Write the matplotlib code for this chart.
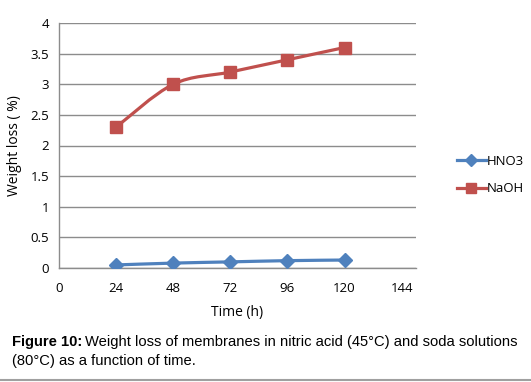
import numpy as np
import matplotlib.pyplot as plt
from matplotlib.path import Path
from matplotlib.patches import PathPatch
from matplotlib.lines import Line2D

# ── dados ─────────────────────────────────────────────
tempo = [24, 48, 72, 96, 120]
hno3 = [0.05, 0.08, 0.10, 0.12, 0.13]
naoh = [2.3, 3.0, 3.2, 3.4, 3.6]
xticks = [0, 24, 48, 72, 96, 120, 144]
yticks = [0, 0.5, 1, 1.5, 2, 2.5, 3, 3.5, 4]

azul = '#4F81BD'
vermelho = '#C0504D'
grade = '#8C8C8C'


def curva_suave(x, y, t=1/6):
    # curva estilo Excel (Catmull-Rom -> Bezier cubica)
    x = np.asarray(x, float)
    y = np.asarray(y, float)
    verts = [(x[0], y[0])]
    codes = [Path.MOVETO]
    n = len(x)
    for i in range(n - 1):
        p0 = (x[max(i - 1, 0)], y[max(i - 1, 0)])
        p1 = (x[i], y[i])
        p2 = (x[i + 1], y[i + 1])
        p3 = (x[min(i + 2, n - 1)], y[min(i + 2, n - 1)])
        c1 = (p1[0] + (p2[0] - p0[0]) * t, p1[1] + (p2[1] - p0[1]) * t)
        c2 = (p2[0] - (p3[0] - p1[0]) * t, p2[1] - (p3[1] - p1[1]) * t)
        verts += [c1, c2, p2]
        codes += [Path.CURVE4] * 3
    return Path(verts, codes)


fig = plt.figure(figsize=(5.31, 3.82), dpi=100)
ax = fig.add_axes([59/531, 1 - 268/382, (416-59)/531, (268-23)/382])

for serie, cor, mk, ms in [(hno3, azul, 'D', 7), (naoh, vermelho, 's', 8)]:
    ax.add_patch(PathPatch(curva_suave(tempo, serie), fill=False,
                           edgecolor=cor, linewidth=2.3, zorder=3))
    ax.plot(tempo, serie, linestyle='none', marker=mk, markersize=ms,
            color=cor, zorder=4)

ax.set_xlim(0, 150)
ax.set_ylim(0, 4)
ax.set_xticks(xticks)
ax.set_yticks(yticks)
ax.set_yticklabels([f'{v:g}' for v in yticks])
ax.tick_params(length=0, labelsize=9.5, pad=7)
ax.tick_params(axis='x', pad=10)
for lab in ax.get_xticklabels() + ax.get_yticklabels():
    lab.set_family('Open Sans')
ax.grid(axis='y', color=grade, linewidth=1)
ax.set_axisbelow(True)
for lado in ['top', 'right']:
    ax.spines[lado].set_visible(False)
for lado in ['left', 'bottom']:
    ax.spines[lado].set_color(grade)
    ax.spines[lado].set_linewidth(1)

ax.set_xlabel('Time (h)', family='Open Sans', fontsize=10, labelpad=7)
ax.set_ylabel('Weight loss ( %)', family='Open Sans', fontsize=10, labelpad=6)

handles = [Line2D([], [], color=azul, marker='D', markersize=6, linewidth=2.3),
           Line2D([], [], color=vermelho, marker='s', markersize=7, linewidth=2.3)]
fig.legend(handles, ['HNO3', 'NaOH'], loc='center left',
           bbox_to_anchor=(445/531, 1 - 175/382), frameon=False,
           prop={'family': 'Open Sans', 'size': 9.5}, handlelength=2.2,
           handletextpad=0.05, labelspacing=1.1)

# legenda da figura
tam = 10.6
t1 = fig.text(12/531, 1 - 342/382, 'Figure 10:', fontsize=tam, weight='bold',
              family='Liberation Sans', va='center')
fig.canvas.draw()
bb = t1.get_window_extent()
fig.text(bb.x1 / 531 + 3/531, 1 - 342/382,
         'Weight loss of membranes in nitric acid (45°C) and soda solutions',
         fontsize=tam, family='Liberation Sans', va='center')
fig.text(12/531, 1 - 361/382, '(80°C) as a function of time.', fontsize=tam,
         family='Liberation Sans', va='center')
fig.add_artist(Line2D([0, 1], [1 - 380/382] * 2, color='#A0A0A0', linewidth=1.5))

fig.savefig('out.png', dpi=100)
